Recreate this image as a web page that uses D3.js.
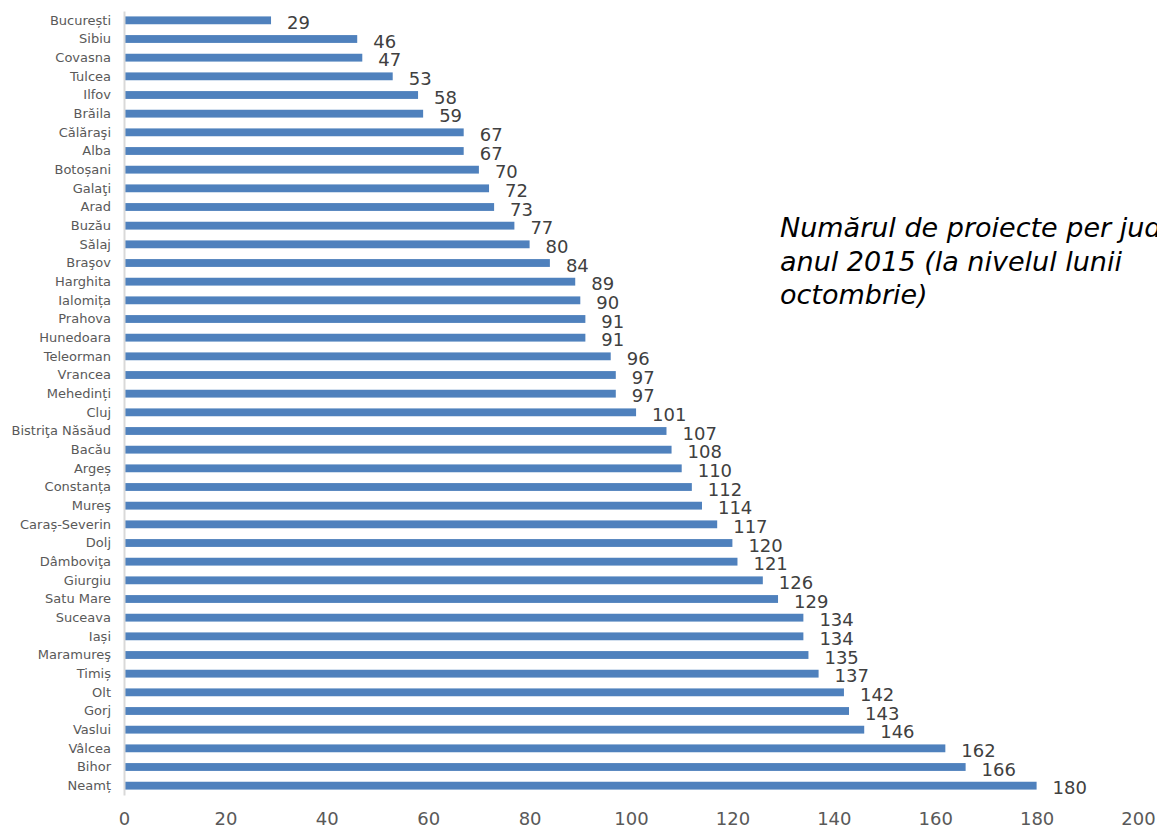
<!DOCTYPE html>
<html>
<head>
<meta charset="utf-8">
<script src="https://cdn.jsdelivr.net/npm/d3@7"></script>
<style>
  body { margin: 0; background: #fff; overflow: hidden; }
  svg { display: block; }
</style>
</head>
<body>
<script>
// judete, de sus in jos
var counties = ['București', 'Sibiu', 'Covasna', 'Tulcea', 'Ilfov', 'Brăila', 'Călăraşi', 'Alba',
    'Botoșani', 'Galaţi', 'Arad', 'Buzău', 'Sălaj', 'Braşov', 'Harghita', 'Ialomița', 'Prahova',
    'Hunedoara', 'Teleorman', 'Vrancea', 'Mehedinți', 'Cluj', 'Bistriţa Năsăud', 'Bacău', 'Argeș',
    'Constanța', 'Mureş', 'Caraș-Severin', 'Dolj', 'Dâmboviţa', 'Giurgiu', 'Satu Mare', 'Suceava',
    'Iași', 'Maramureş', 'Timiș', 'Olt', 'Gorj', 'Vaslui', 'Vâlcea', 'Bihor', 'Neamț'];

var projects = [29, 46, 47, 53, 58, 59, 67, 67, 70, 72, 73, 77, 80, 84, 89, 90, 91, 91, 96, 97, 97,
    101, 107, 108, 110, 112, 114, 117, 120, 121, 126, 129, 134, 134, 135, 137, 142, 143, 146,
    162, 166, 180];

var xTicks = [0, 20, 40, 60, 80, 100, 120, 140, 160, 180, 200];

var titleLines = ['Numărul de proiecte per județ în', 'anul 2015 (la nivelul lunii', 'octombrie)'];

var width = 1157, height = 827;
var margin = { top: 11, right: 19, bottom: 32, left: 124 };
var font = '"DejaVu Sans", Verdana, sans-serif';

var svg = d3.select('body').append('svg')
    .attr('width', width)
    .attr('height', height);

var x = d3.scaleLinear()
    .domain([0, 200])
    .range([margin.left, width - margin.right]);

var y = d3.scaleBand()
    .domain(counties)
    .range([margin.top, height - margin.bottom])
    .paddingInner(0.58)
    .paddingOuter(0.29);

// bare
svg.selectAll('.bar')
    .data(counties)
    .enter()
        .append('rect')
        .attr('class', 'bar')
        .attr('x', x(0) + 1)
        .attr('y', function(d) { return y(d); })
        .attr('width', function(d, i) { return x(projects[i]) - x(0) - 1; })
        .attr('height', y.bandwidth())
        .attr('fill', '#4f81bd');

// etichete valori
svg.selectAll('.val')
    .data(counties)
    .enter()
        .append('text')
        .attr('class', 'val')
        .attr('x', function(d, i) { return x(projects[i]) + 16; })
        .attr('y', function(d) { return y(d) + y.bandwidth() / 2 + 8.5; })
        .attr('font-family', font)
        .attr('font-size', 18)
        .attr('fill', '#404040')
        .text(function(d, i) { return projects[i]; });

// axa verticala (categorii)
var yAxis = svg.append('g')
    .attr('transform', 'translate(' + margin.left + ',0)')
    .call(d3.axisLeft(y).tickSize(0).tickPadding(13));
yAxis.select('.domain')
    .attr('stroke', '#d9d9d9')
    .attr('stroke-width', 2);
yAxis.selectAll('text')
    .attr('font-family', font)
    .attr('font-size', 13)
    .attr('fill', '#595959');

// axa orizontala
var xAxis = svg.append('g')
    .attr('transform', 'translate(0,' + (height - margin.bottom) + ')')
    .call(d3.axisBottom(x).tickValues(xTicks).tickSize(0).tickPadding(17));
xAxis.select('.domain').remove();
xAxis.selectAll('text')
    .attr('font-family', font)
    .attr('font-size', 18)
    .attr('fill', '#595959');

// titlu
svg.append('text')
    .attr('font-family', font)
    .attr('font-style', 'italic')
    .attr('font-size', 27)
    .attr('fill', '#000')
    .selectAll('tspan')
    .data(titleLines)
    .enter()
        .append('tspan')
        .attr('x', 780)
        .attr('y', function(d, i) { return 237 + i * 33.5; })
        .text(function(d) { return d; });
</script>
</body>
</html>
